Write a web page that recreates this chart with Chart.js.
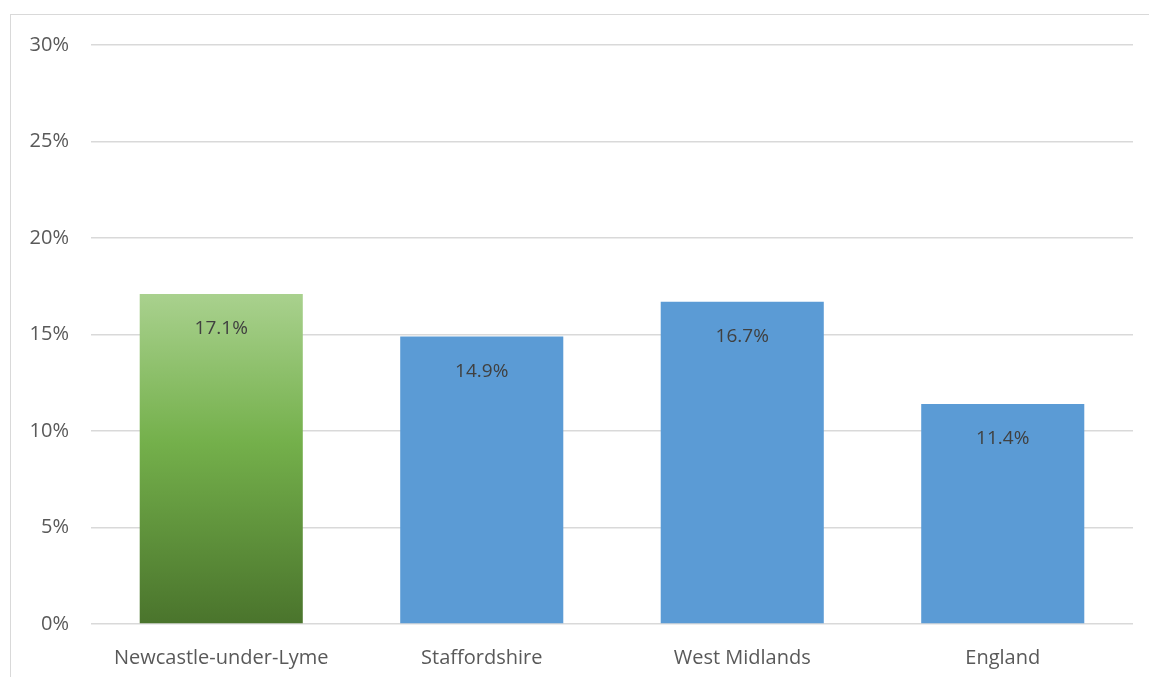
<!DOCTYPE html>
<html lang="en">
<head>
    <meta charset="UTF-8">
    <title>Percentage by area</title>
    <script src="https://cdn.jsdelivr.net/npm/chart.js"></script>
    <style>
        body { margin: 0; background: #fff; overflow: hidden; }
        #frame {
            position: absolute; left: 10px; top: 14px;
            width: 1145px; height: 670px;
            border: 1.5px solid #d9d9d9; box-sizing: border-box;
        }
        #chartBox { position: absolute; left: 0; top: -4px; width: 1138px; height: 666px; }
    </style>
</head>
<body>
    <div id="frame">
        <div id="chartBox"><canvas id="areaChart"></canvas></div>
    </div>

    <script>
        const areas = ['Newcastle-under-Lyme', 'Staffordshire', 'West Midlands', 'England'];
        const percentages = [17.1, 14.9, 16.7, 11.4];
        const yTicks = [0, 5, 10, 15, 20, 25, 30];

        const blue = '#5b9bd5';
        const fontFamily = '"Open Sans", Lato, sans-serif';

        function barColour(context) {
            if (context.dataIndex !== 0) return blue;
            const chart = context.chart;
            const area = chart.chartArea;
            if (!area) return '#70ad47';
            const y = chart.scales.y;
            const top = y.getPixelForValue(percentages[0]);
            const g = chart.ctx.createLinearGradient(0, top, 0, area.bottom);
            g.addColorStop(0, '#a9d18e');
            g.addColorStop(0.45, '#74b04b');
            g.addColorStop(1, '#4a742c');
            return g;
        }

        // values written just inside the top of each bar
        const insideLabels = {
            id: 'insideLabels',
            afterDatasetsDraw(chart) {
                const ctx = chart.ctx;
                const meta = chart.getDatasetMeta(0);
                ctx.save();
                ctx.font = '19px ' + fontFamily;
                ctx.fillStyle = '#404040';
                ctx.textAlign = 'center';
                ctx.textBaseline = 'middle';
                meta.data.forEach((bar, i) => {
                    ctx.fillText(percentages[i].toFixed(1) + '%', bar.x, bar.y + 35);
                });
                ctx.restore();
            }
        };

        new Chart(document.getElementById('areaChart'), {
            type: 'bar',
            data: {
                labels: areas,
                datasets: [{
                    data: percentages,
                    backgroundColor: barColour,
                    barPercentage: 0.626,
                    categoryPercentage: 1
                }]
            },
            options: {
                responsive: true,
                maintainAspectRatio: false,
                animation: false,
                layout: { padding: { top: 22, right: 16, bottom: 0, left: 0 } },
                plugins: {
                    legend: { display: false },
                    tooltip: { enabled: false }
                },
                scales: {
                    x: {
                        grid: { display: false },
                        border: { display: false },
                        ticks: {
                            color: '#595959',
                            font: { family: fontFamily, size: 20 },
                            padding: 14
                        },
                        afterFit(scale) { scale.height = 53; }
                    },
                    y: {
                        min: 0,
                        max: 30,
                        afterBuildTicks(scale) {
                            scale.ticks = yTicks.map(v => ({ value: v }));
                        },
                        grid: { color: '#d9d9d9', lineWidth: 1.5, drawTicks: false },
                        border: { display: false },
                        ticks: {
                            color: '#595959',
                            font: { family: fontFamily, size: 20 },
                            padding: 22,
                            callback: v => v + '%'
                        },
                        afterFit(scale) { scale.width = 80; }
                    }
                }
            },
            plugins: [insideLabels]
        });
    </script>
</body>
</html>
